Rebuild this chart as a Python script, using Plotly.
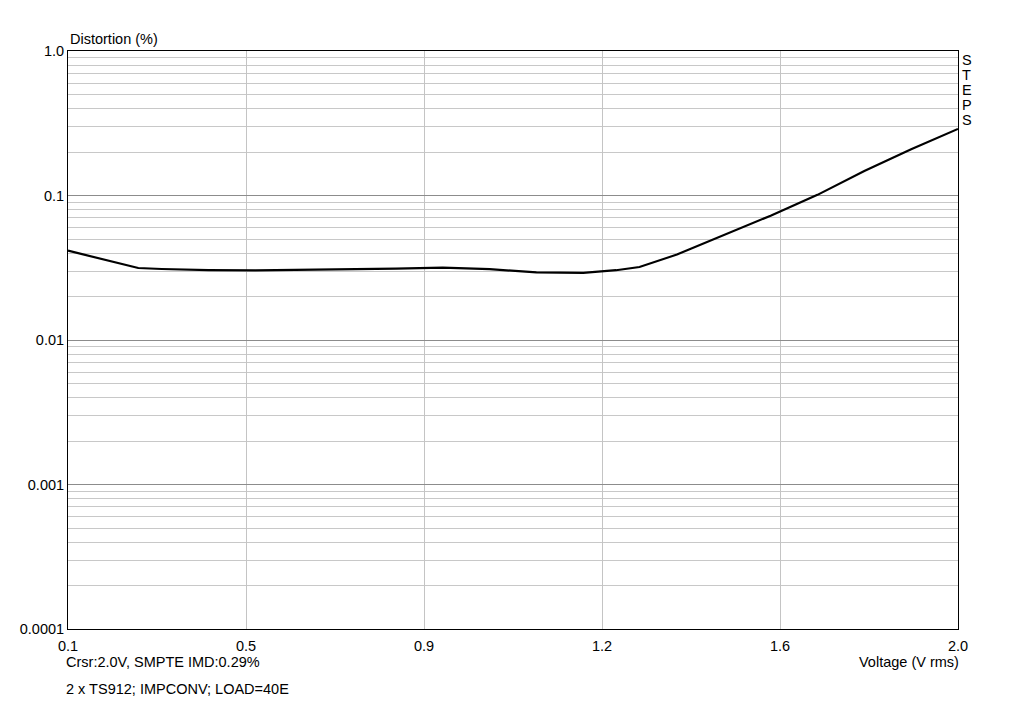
import plotly.graph_objects as go

voltage = [0.1, 0.2, 0.25, 0.3, 0.4, 0.5, 0.6, 0.7, 0.8, 0.9, 1.0, 1.1, 1.2, 1.27, 1.32, 1.4, 1.5, 1.6, 1.7, 1.8, 1.9, 2.0]
distortion = [0.0415, 0.0345, 0.0315, 0.0310, 0.0304, 0.0303, 0.0305, 0.0309, 0.0312, 0.0317, 0.0309, 0.0294, 0.0291, 0.0304, 0.0320, 0.0390, 0.0530, 0.0725, 0.1010, 0.1480, 0.2090, 0.2890]

x_tickvals = [0.1, 0.48, 0.86, 1.24, 1.62, 2.0]
x_ticktext = ["0.1", "0.5", "0.9", "1.2", "1.6", "2.0"]
y_tickvals = [1.0, 0.1, 0.01, 0.001, 0.0001]
y_ticktext = ["1.0", "0.1", "0.01", "0.001", "0.0001"]
y_minor = [m * 10 ** e for e in range(-4, 0) for m in range(2, 10)]

FONT = "Liberation Sans, Arial, sans-serif"
FS = 14.5

# page body has an 8px margin; figure is placed at (8, 8)
OFF = 8
W, H = 1008, 693
L, T, R, B = 66 - OFF, 51 - OFF, W - (958 - OFF), H - (629 - OFF)
PW, PH = W - L - R, H - T - B


def px(x):
    return (x - OFF - L) / PW


def py(y):
    return (H - B - (y - OFF)) / PH


fig = go.Figure()
fig.add_trace(go.Scatter(x=voltage, y=distortion, mode="lines",
                         line=dict(color="black", width=2.2), showlegend=False))

ann = [
    dict(text="Distortion (%)", x=px(66), y=py(39), xanchor="left"),
    dict(text="Crsr:2.0V, SMPTE IMD:0.29%", x=px(62), y=py(662), xanchor="left"),
    dict(text="2 x TS912; IMPCONV; LOAD=40E", x=px(62), y=py(689), xanchor="left"),
    dict(text="Voltage (V rms)", x=px(961), y=py(662), xanchor="right"),
]
for i, ch in enumerate("STEPS"):
    ann.append(dict(text=ch, x=px(967), y=py(60 + 15 * i), xanchor="center"))
for a in ann:
    a.update(xref="paper", yref="paper", yanchor="middle", showarrow=False,
             font=dict(family=FONT, size=FS, color="black"))

fig.update_layout(
    width=W, height=H,
    margin=dict(l=L, r=R, t=T, b=B, pad=0),
    paper_bgcolor="white", plot_bgcolor="white",
    font=dict(family=FONT, size=FS, color="black"),
    xaxis=dict(range=[0.1, 2.0], tickvals=x_tickvals, ticktext=x_ticktext,
               showgrid=True, gridcolor="#c4c4c4", gridwidth=1,
               showline=True, linecolor="black", linewidth=1, mirror=True,
               ticks="", zeroline=False, tickfont=dict(size=FS), ticklabelstandoff=4),
    yaxis=dict(type="log", range=[-4, 0], tickvals=y_tickvals, ticktext=y_ticktext,
               showgrid=True, gridcolor="#8c8c8c", gridwidth=1,
               showline=True, linecolor="black", linewidth=1, mirror=True,
               ticks="", zeroline=False, tickfont=dict(size=FS),
               minor=dict(tickvals=y_minor, showgrid=True, gridcolor="#c8c8c8", gridwidth=1, ticks="")),
    annotations=ann,
)

fig.write_html("out.html")
